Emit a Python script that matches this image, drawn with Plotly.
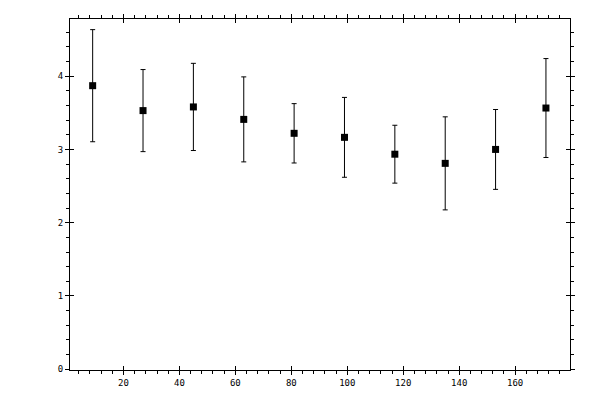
import plotly.graph_objects as go

# bin centres and measured means with symmetric errors
x_vals = [9, 27, 45, 63, 81, 99, 117, 135, 153, 171]
y_vals = [3.87, 3.53, 3.58, 3.41, 3.22, 3.165, 2.935, 2.81, 3.0, 3.565]
y_err = [0.765, 0.56, 0.595, 0.58, 0.405, 0.545, 0.395, 0.635, 0.545, 0.675]

x_range = [0.9, 179.6]
y_range = [-0.01, 4.78]

fig = go.Figure()

fig.add_trace(go.Scatter(
    x=x_vals, y=y_vals,
    mode='markers',
    marker=dict(symbol='square', size=7, color='black'),
    error_y=dict(type='data', array=y_err, color='black', thickness=1, width=2.5),
    showlegend=False,
))

# invisible copy so the overlay axes (inner half of the major ticks) get drawn
fig.add_trace(go.Scatter(
    x=x_vals, y=y_vals, xaxis='x2', yaxis='y2',
    mode='markers', marker=dict(opacity=0), hoverinfo='skip', showlegend=False,
))

tick_font = dict(family='DejaVu Sans Mono', size=9, color='black')

# page body adds an 8px offset, margins are set to make up for it
fig.update_layout(
    width=600,
    height=400,
    autosize=False,
    margin=dict(l=62, r=38, t=11, b=38, autoexpand=False),
    plot_bgcolor='white',
    paper_bgcolor='white',
    xaxis=dict(
        range=x_range, showgrid=False, zeroline=False, automargin=False,
        showline=True, linecolor='black', linewidth=1, mirror='allticks',
        ticks='outside', ticklen=4, tickcolor='black', tickwidth=1,
        tick0=0, dtick=20, tickfont=tick_font,
        minor=dict(ticks='outside', ticklen=3, dtick=4, tickcolor='black', showgrid=False),
    ),
    yaxis=dict(
        range=y_range, showgrid=False, zeroline=False, automargin=False,
        showline=True, linecolor='black', linewidth=1, mirror='allticks',
        ticks='outside', ticklen=4, tickcolor='black', tickwidth=1,
        tick0=0, dtick=1, tickfont=tick_font,
        minor=dict(ticks='outside', ticklen=3, dtick=0.2, tickcolor='black', showgrid=False),
    ),
    xaxis2=dict(
        overlaying='x', matches='x', range=x_range, showgrid=False, zeroline=False,
        automargin=False, showline=False, mirror='allticks', ticks='inside', ticklen=4,
        tickcolor='black', tick0=0, dtick=20, showticklabels=False,
    ),
    yaxis2=dict(
        overlaying='y', matches='y', range=y_range, showgrid=False, zeroline=False,
        automargin=False, showline=False, mirror='allticks', ticks='inside', ticklen=4,
        tickcolor='black', tick0=0, dtick=1, showticklabels=False,
    ),
)

fig.write_html('out.html')
